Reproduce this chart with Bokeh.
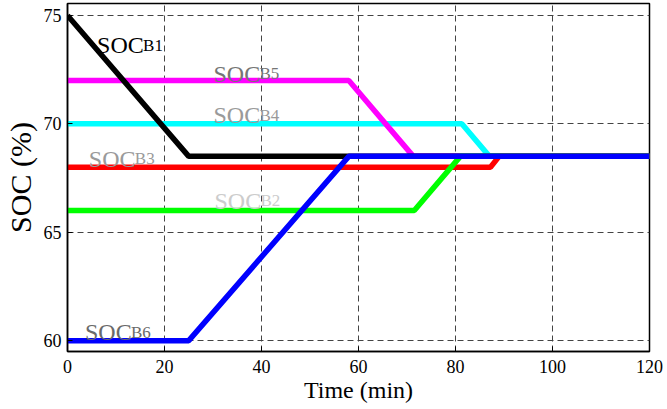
from bokeh.plotting import figure
from bokeh.embed import file_html
from bokeh.resources import INLINE
from bokeh.models import FixedTicker, Range1d
from bokeh.core.properties import value

# ---- data ----
t_b1 = [0, 25, 120]
soc_b1 = [75, 68.5, 68.5]
t_b2 = [0, 71.5, 81, 120]
soc_b2 = [66, 66, 68.5, 68.5]
t_b3 = [0, 87.2, 89, 120]
soc_b3 = [68, 68, 68.5, 68.5]
t_b4 = [0, 81.3, 87, 120]
soc_b4 = [70, 70, 68.5, 68.5]
t_b5 = [0, 58, 71.3, 120]
soc_b5 = [72, 72, 68.5, 68.5]
t_b6 = [0, 25, 58, 120]
soc_b6 = [60, 60, 68.5, 68.5]

x_ticks = [0, 20, 40, 60, 80, 100, 120]
y_ticks = [60, 65, 70, 75]

label_names = ["B1", "B5", "B4", "B3", "B2", "B6"]
label_t = [6.1, 30.1, 30.1, 4.4, 30.3, 3.6]
label_soc = [73.62, 72.32, 70.39, 68.40, 66.46, 60.39]
label_colors = ["#000000", "#757575", "#9a9a9a", "#9a9a9a", "#cccccc", "#6a6a6a"]

x_title = "Time (min)"
y_title = "SOC (%)"

FONT = "Liberation Serif"

p = figure(width=667, height=409, output_backend="svg", toolbar_location=None,
           x_range=Range1d(0, 120), y_range=Range1d(59.5, 75.55),
           min_border_left=66, min_border_right=18, min_border_top=3, min_border_bottom=58)

p.background_fill_color = "white"
p.border_fill_color = "white"
p.outline_line_color = "black"
p.outline_line_width = 1.5

for ax in (p.xaxis[0], p.yaxis[0]):
    ax.axis_line_color = "black"
    ax.axis_line_width = 1.5
    ax.major_tick_in = 5
    ax.major_tick_out = 0
    ax.minor_tick_in = 0
    ax.minor_tick_out = 0
    ax.major_tick_line_color = "black"
    ax.major_label_text_font = FONT
    ax.major_label_text_font_size = "18px"
    ax.major_label_text_color = "black"
    ax.axis_label_text_font = FONT
    ax.axis_label_text_font_style = "normal"
    ax.axis_label_text_color = "black"

p.xaxis.ticker = FixedTicker(ticks=x_ticks)
p.yaxis.ticker = FixedTicker(ticks=y_ticks)
p.xaxis.axis_label = x_title
p.yaxis.axis_label = y_title
p.xaxis.axis_label_text_font_size = "24px"
p.yaxis.axis_label_text_font_size = "30px"
p.xaxis.major_label_standoff = 8
p.xaxis.axis_label_standoff = 1
p.yaxis.major_label_standoff = 6
p.yaxis.axis_label_standoff = 4

for g in (p.xgrid[0], p.ygrid[0]):
    g.grid_line_color = "#444444"
    g.grid_line_dash = "6 4"
    g.grid_line_width = 1
p.xgrid.ticker = FixedTicker(ticks=x_ticks)
p.ygrid.ticker = FixedTicker(ticks=y_ticks)

LW = 5.5
p.line(t_b4, soc_b4, line_color="#00ffff", line_width=LW)
p.line(t_b5, soc_b5, line_color="#ff00ff", line_width=LW)
p.line(t_b1, soc_b1, line_color="#000000", line_width=LW)
p.line(t_b3, soc_b3, line_color="#ff0000", line_width=LW)
p.line(t_b2, soc_b2, line_color="#00ff00", line_width=LW)
p.line(t_b6, soc_b6, line_color="#0000ff", line_width=LW)

main = ["SOC"] * len(label_names)
p.text(x=label_t, y=label_soc, text=main, text_color=label_colors,
       text_font=value(FONT), text_font_size="24px", text_baseline="alphabetic", text_align="left")
p.text(x=label_t, y=label_soc, text=label_names, text_color=label_colors, x_offset=46,
       text_font=value(FONT), text_font_size="17px", text_baseline="alphabetic", text_align="left")

open("out.html", "w").write(file_html(p, INLINE))
